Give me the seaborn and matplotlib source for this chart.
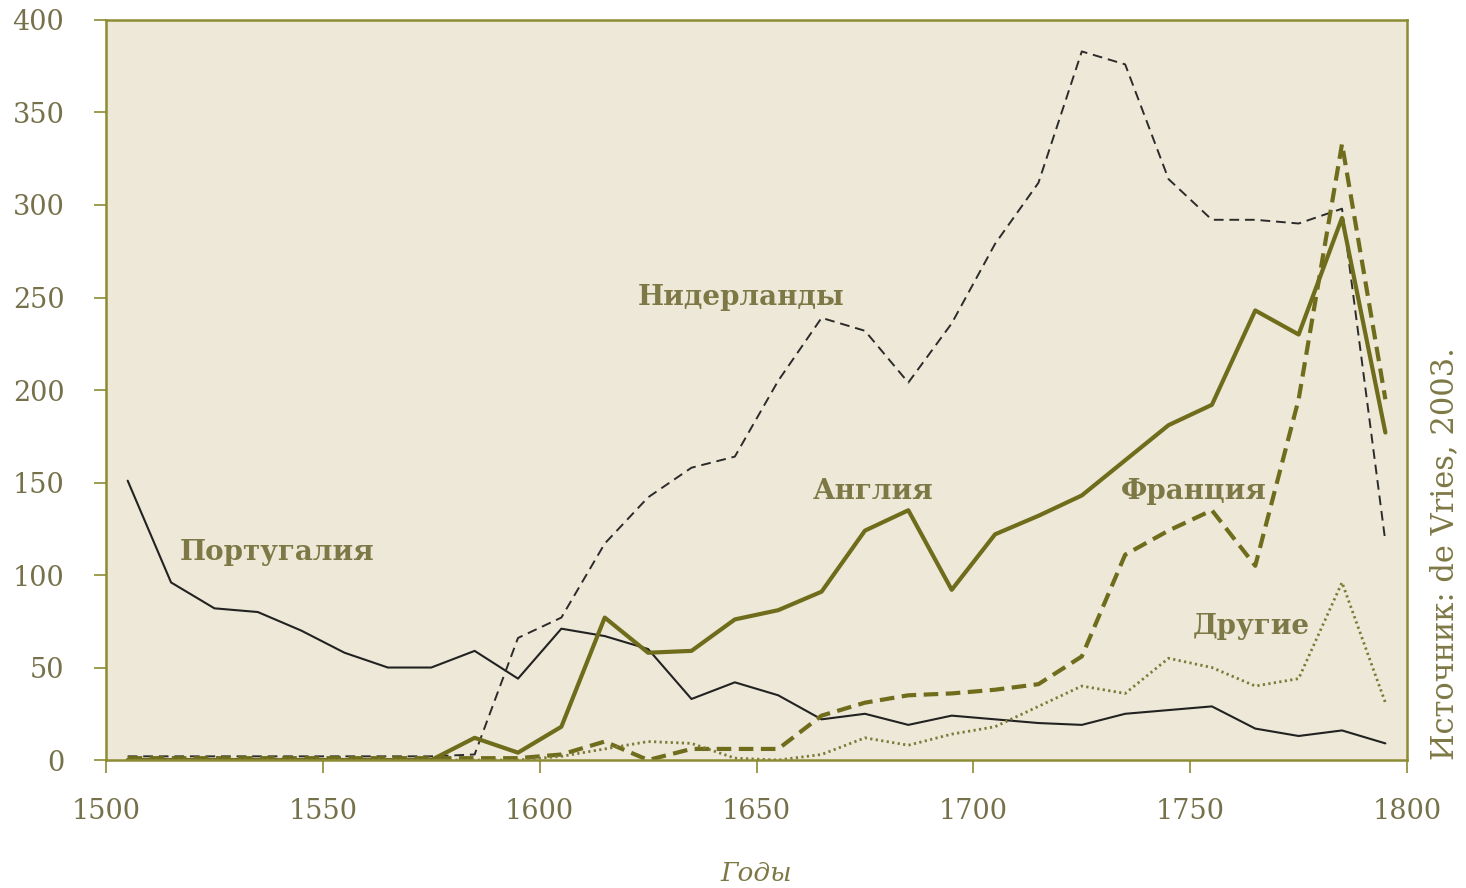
import matplotlib
matplotlib.use("Agg")
import matplotlib.pyplot as plt
import pandas as pd
import seaborn as sns

years = list(range(1505, 1800, 10))

portugal = [151, 96, 82, 80, 70, 58, 50, 50, 59, 44,
            71, 67, 60, 33, 42, 35, 22, 25, 19, 24,
            22, 20, 19, 25, 27, 29, 17, 13, 16, 9]
netherlands = [2, 2, 2, 2, 2, 2, 2, 2, 3, 66,
               77, 117, 142, 158, 164, 205, 239, 232, 204, 236,
               279, 312, 383, 376, 314, 292, 292, 290, 298, 118]
england = [0, 0, 0, 0, 0, 0, 0, 0, 12, 4,
           18, 77, 58, 59, 76, 81, 91, 124, 135, 92,
           122, 132, 143, 162, 181, 192, 243, 230, 293, 177]
france = [1, 1, 1, 1, 1, 1, 1, 1, 1, 1,
          3, 10, 0, 6, 6, 6, 24, 31, 35, 36,
          38, 41, 56, 111, 124, 135, 105, 195, 333, 195]
others = [0, 0, 0, 0, 0, 0, 0, 0, 0, 0,
          2, 6, 10, 9, 1, 0, 3, 12, 8, 14,
          18, 29, 40, 36, 55, 50, 40, 44, 96, 31]

series_labels = ["Португалия", "Нидерланды", "Англия", "Франция", "Другие"]
label_pos = [(1517, 112), (1622.5, 250), (1663, 145), (1734, 145), (1750.5, 72)]

TEXT = "#7d7845"
TICK_TEXT = "#76714a"
OLIVE = "#6f6d1c"
SPINE = "#8d8b33"
BG = "#ede8d7"

sns.set_style("white")
plt.rcParams["font.family"] = ["DejaVu Serif"]

df = pd.DataFrame({"year": years, "Португалия": portugal, "Нидерланды": netherlands,
                   "Англия": england, "Франция": france, "Другие": others})

fig = plt.figure(figsize=(14.66, 8.88), dpi=100)
ax = fig.add_axes([0.0723, 0.1441, 0.8875, 0.8334])
ax.set_facecolor(BG)

styles = {
    "Португалия": dict(color="#222222", lw=1.5, ls="-"),
    "Нидерланды": dict(color="#2b2b2b", lw=1.4, ls=(0, (5, 3))),
    "Англия": dict(color=OLIVE, lw=3.0, ls="-"),
    "Франция": dict(color=OLIVE, lw=3.0, ls=(0, (3.5, 1.8))),
    "Другие": dict(color="#7d7a38", lw=2.0, ls=(0, (0.8, 1.2))),
}
for name in series_labels:
    st = styles[name]
    sns.lineplot(data=df, x="year", y=name, ax=ax, color=st["color"], lw=st["lw"],
                 linestyle=st["ls"])

for name, (x, y) in zip(series_labels, label_pos):
    ax.text(x, y, name, fontsize=20, fontweight="bold", color=TEXT, ha="left", va="center")

ax.set_xlim(1500, 1800)
ax.set_ylim(0, 400)
ax.set_xticks(range(1500, 1801, 50))
ax.set_yticks(range(0, 401, 50))
ax.set_xlabel("Годы", fontsize=19, style="italic", color=TEXT, labelpad=26)
ax.set_ylabel("")
ax.tick_params(axis="both", colors=SPINE, labelcolor=TICK_TEXT, labelsize=19.5, direction="out",
               length=9, width=1.2, left=True, bottom=True)
ax.tick_params(axis="y", pad=21)
ax.tick_params(axis="x", pad=18)
for side in ax.spines.values():
    side.set_color(SPINE)
    side.set_linewidth(1.8)

fig.text(0.9857, 0.377, "Источник: de Vries, 2003.", rotation=90, fontsize=22,
         color=TEXT, ha="center", va="center")

fig.savefig("out.png", dpi=100, facecolor="white")
